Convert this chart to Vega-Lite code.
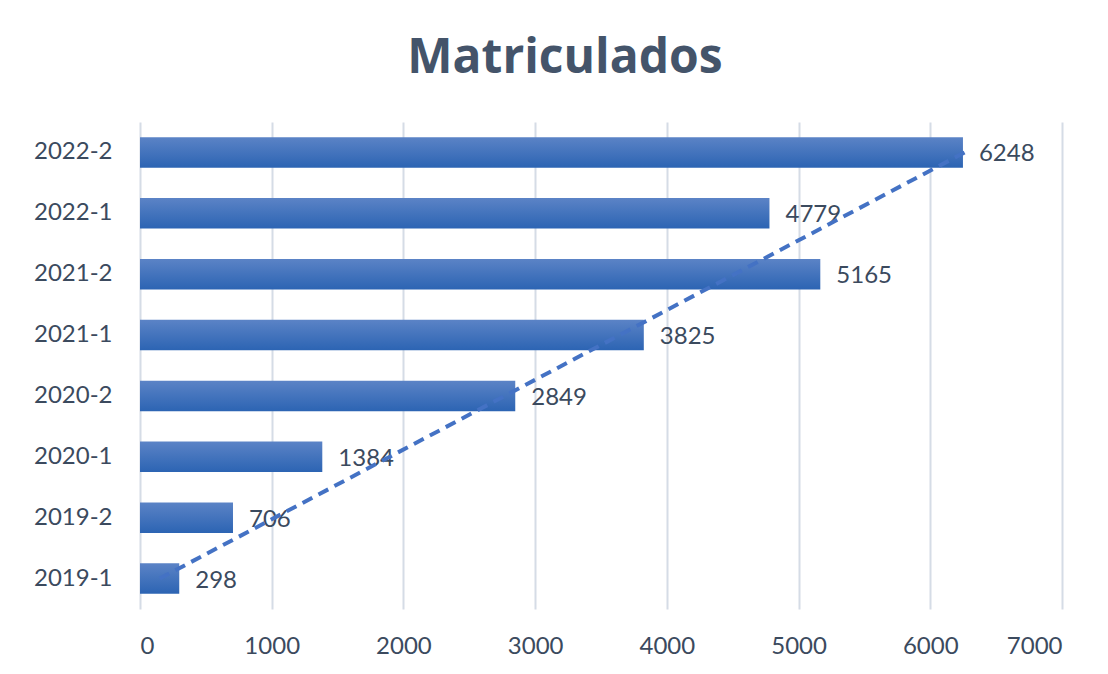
{
  "$schema": "https://vega.github.io/schema/vega-lite/v6.json",
  "width": 922,
  "height": 487,
  "autosize": {"type": "none"},
  "padding": {"left": 140, "top": 122, "right": 46, "bottom": 65},
  "background": "white",
  "title": {
    "text": "Matriculados",
    "font": "Open Sans",
    "fontSize": 48,
    "fontWeight": "bold",
    "color": "#44546A",
    "anchor": "middle",
    "frame": "group",
    "dx": -36,
    "baseline": "alphabetic",
    "offset": 44,
    "dy": 43
  },
  "datasets": {
    "bars": [
      {"periodo": "2019-1", "matriculados": 298},
      {"periodo": "2019-2", "matriculados": 706},
      {"periodo": "2020-1", "matriculados": 1384},
      {"periodo": "2020-2", "matriculados": 2849},
      {"periodo": "2021-1", "matriculados": 3825},
      {"periodo": "2021-2", "matriculados": 5165},
      {"periodo": "2022-1", "matriculados": 4779},
      {"periodo": "2022-2", "matriculados": 6248}
    ],
    "trend": [
      {"periodo": "2019-1", "tendencia": 150},
      {"periodo": "2022-2", "tendencia": 6260}
    ]
  },
  "config": {
    "view": {"stroke": null},
    "axis": {
      "labelFont": "Lato",
      "labelColor": "#3B4A5E",
      "labelFontSize": 24,
      "ticks": false,
      "domain": false,
      "title": null
    }
  },
  "layer": [
    {
      "data": {"name": "bars"},
      "mark": {
        "type": "bar",
        "color": {
          "gradient": "linear",
          "x1": 0, "y1": 0, "x2": 0, "y2": 1,
          "stops": [
            {"offset": 0, "color": "#5B83C6"},
            {"offset": 1, "color": "#2C64B3"}
          ]
        }
      },
      "encoding": {
        "y": {
          "field": "periodo",
          "type": "nominal",
          "sort": ["2022-2", "2022-1", "2021-2", "2021-1", "2020-2", "2020-1", "2019-2", "2019-1"],
          "scale": {"paddingInner": 0.5, "paddingOuter": 0.25},
          "axis": {"labelPadding": 28, "grid": false}
        },
        "x": {
          "field": "matriculados",
          "type": "quantitative",
          "scale": {"domain": [0, 7000], "nice": false},
          "axis": {
            "values": [0, 1000, 2000, 3000, 4000, 5000, 6000, 7000],
            "grid": true,
            "gridColor": "#D5DCE6",
            "gridWidth": 2,
            "labelPadding": 25,
            "format": "d"
          }
        }
      }
    },
    {
      "data": {"name": "bars"},
      "mark": {
        "type": "text",
        "align": "left",
        "baseline": "middle",
        "dx": 16,
        "dy": 2,
        "font": "Lato",
        "fontSize": 24,
        "color": "#3B4A5E"
      },
      "encoding": {
        "y": {"field": "periodo", "type": "nominal", "sort": ["2022-2", "2022-1", "2021-2", "2021-1", "2020-2", "2020-1", "2019-2", "2019-1"]},
        "x": {"field": "matriculados", "type": "quantitative"},
        "text": {"field": "matriculados", "type": "quantitative", "format": "d"}
      }
    },
    {
      "data": {"name": "trend"},
      "mark": {
        "type": "line",
        "color": "#4472C4",
        "strokeWidth": 4,
        "strokeDash": [11, 7]
      },
      "encoding": {
        "y": {"field": "periodo", "type": "nominal", "sort": ["2022-2", "2022-1", "2021-2", "2021-1", "2020-2", "2020-1", "2019-2", "2019-1"]},
        "x": {"field": "tendencia", "type": "quantitative"}
      }
    }
  ]
}
